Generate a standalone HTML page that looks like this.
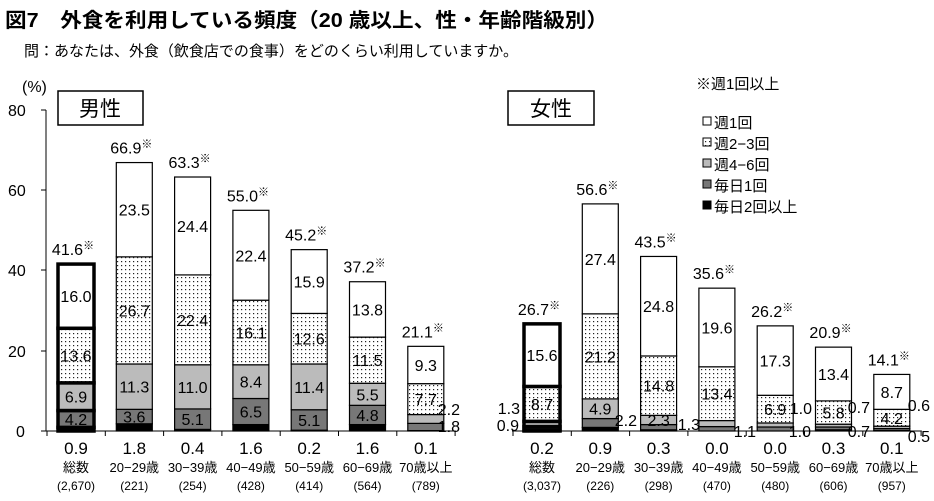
<!DOCTYPE html>
<html><head><meta charset="utf-8">
<style>
html,body{margin:0;padding:0;background:#fff;}
body{width:934px;height:496px;overflow:hidden;position:relative;font-family:"Liberation Sans","Noto Sans CJK JP",sans-serif;}
</style></head>
<body>
<svg id="c" width="934" height="496" xmlns="http://www.w3.org/2000/svg" font-family="Liberation Sans, Noto Sans CJK JP, sans-serif">
<defs>
<pattern id="dots" width="4" height="4" patternUnits="userSpaceOnUse">
<rect width="4" height="4" fill="#fff"/><rect x="1" y="1" width="1.2" height="1.2" fill="#222"/>
</pattern>
</defs>
<text x="5" y="27" font-size="20" font-weight="bold" textLength="603" lengthAdjust="spacingAndGlyphs">図7　外食を利用している頻度（20 歳以上、性・年齢階級別）</text>
<text x="24" y="56" font-size="15" textLength="494" lengthAdjust="spacingAndGlyphs">問：あなたは、外食（飲食店での食事）をどのくらい利用していますか。</text>
<text x="22" y="92" font-size="16">(%)</text>
<text x="8" y="116" font-size="16">80</text>
<text x="8" y="196" font-size="16">60</text>
<text x="8" y="276" font-size="16">40</text>
<text x="8" y="357" font-size="16">20</text>
<text x="16" y="437" font-size="16">0</text>
<rect x="58" y="91" width="85" height="34" fill="#fff" stroke="#000" stroke-width="1.5"/>
<text x="100" y="116" font-size="21" text-anchor="middle">男性</text>
<rect x="508" y="91" width="86" height="34" fill="#fff" stroke="#000" stroke-width="1.5"/>
<text x="551" y="116" font-size="21" text-anchor="middle">女性</text>
<text x="696" y="89" font-size="15">※週1回以上</text>
<g font-size="15">
<rect x="703" y="117" width="8" height="8" fill="#fff" stroke="#000"/><text x="714" y="128">週1回</text>
<rect x="703" y="138" width="8" height="8" fill="url(#dots)" stroke="#000"/><text x="714" y="149">週2−3回</text>
<rect x="703" y="159" width="8" height="8" fill="#bbb" stroke="#000"/><text x="714" y="170">週4−6回</text>
<rect x="703" y="180" width="8" height="8" fill="#777" stroke="#000"/><text x="714" y="191">毎日1回</text>
<rect x="703" y="201" width="8" height="8" fill="#000" stroke="#000"/><text x="714" y="212">毎日2回以上</text>
</g>
<g id="g"></g>
</svg>
<script>
var Y0=431,S=4.0125,W=36;
var fills=["#000","#777","#bbb","url(#dots)","#fff"];
var men=[[0.9,4.2,6.9,13.6,16.0],[1.8,3.6,11.3,26.7,23.5],[0.4,5.1,11.0,22.4,24.4],[1.6,6.5,8.4,16.1,22.4],[0.2,5.1,11.4,12.6,15.9],[1.6,4.8,5.5,11.5,13.8],[0.1,1.8,2.2,7.7,9.3]];
var wom=[[0.2,0.9,1.3,8.7,15.6],[0.9,2.2,4.9,21.2,27.4],[0.3,1.3,2.3,14.8,24.8],[0.0,1.1,1.5,13.4,19.6],[0.0,1.0,1.0,6.9,17.3],[0.3,0.7,0.7,5.8,13.4],[0.1,0.5,0.6,4.2,8.7]];
var mt=["41.6","66.9","63.3","55.0","45.2","37.2","21.1"];
var wt=["26.7","56.6","43.5","35.6","26.2","20.9","14.1"];
var cats=["総数","20−29歳","30−39歳","40−49歳","50−59歳","60−69歳","70歳以上"];
var mn=["(2,670)","(221)","(254)","(428)","(414)","(564)","(789)"];
var wn=["(3,037)","(226)","(298)","(470)","(480)","(606)","(957)"];
var h="";
function t(x,y,s,fs,a){return '<text x="'+x+'" y="'+y+'" font-size="'+fs+'" text-anchor="'+(a||"middle")+'">'+s+'</text>';}
function bars(data,tot,ns,x0,ext){
 h+='<line x1="'+(x0-30)+'" y1="'+Y0+'" x2="'+(x0+6*58.3+30)+'" y2="'+Y0+'" stroke="#000"/>';
 for(var k=0;k<8;k++){var tx=x0-29+k*58.3;h+='<line x1="'+tx+'" y1="'+Y0+'" x2="'+tx+'" y2="'+(Y0+5)+'" stroke="#000"/>';}
 for(var i=0;i<7;i++){
  var cx=x0+i*58.3,d=data[i],y=Y0,bw=i==0?3.5:1.2;
  for(var j=0;j<5;j++){var hh=d[j]*S;
   h+='<rect x="'+(cx-W/2)+'" y="'+(y-hh)+'" width="'+W+'" height="'+hh+'" fill="'+fills[j]+'" stroke="#000" stroke-width="'+bw+'"/>';
   if(j>0&&d[j]>=2.3) h+=t(cx,y-hh/2+6,d[j].toFixed(1),16);
   y-=hh;}
  h+='<text x="'+(cx-3)+'" y="'+(y-9)+'" font-size="16" text-anchor="middle">'+tot[i]+'<tspan font-size="11" dy="-6">※</tspan></text>';
  h+=t(cx,Y0+23,d[0].toFixed(1),17)+t(cx,Y0+41,cats[i],13)+t(cx,Y0+59,ns[i],12);
 }
 h+=ext;
}
bars(men,mt,mn,76,t(460,415,"2.2",16,"end")+t(460,432,"1.8",16,"end"));
bars(wom,wt,wn,542,t(520,414,"1.3",16,"end")+t(519,431,"0.9",16,"end")+t(637,426,"2.2",16,"end")+t(700,430,"1.3",16,"end")+t(756,437,"1.1",16,"end")+t(812,414,"1.0",16,"end")+t(811,437,"1.0",16,"end")+t(870,413,"0.7",16,"end")+t(870,437,"0.7",16,"end")+t(930,411,"0.6",16,"end")+t(930,442,"0.5",16,"end"));
h+='<line x1="46" y1="110" x2="46" y2="431" stroke="#000"/>';
[110,190,270,351,431].forEach(function(v){h+='<line x1="41" y1="'+v+'" x2="46" y2="'+v+'" stroke="#000"/>';});
document.getElementById("g").innerHTML=h;
</script>
</body></html>
